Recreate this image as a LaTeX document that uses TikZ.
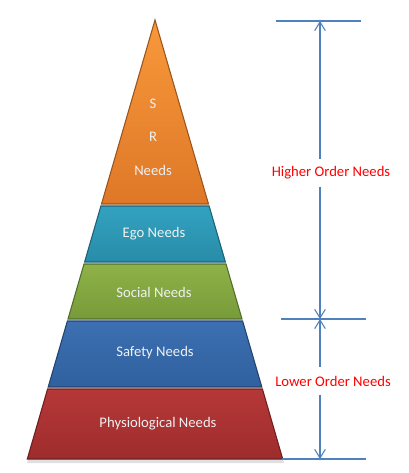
\documentclass[tikz,border=0pt]{standalone}
\usepackage{fontspec}
\setmainfont{Carlito}
\usetikzlibrary{arrows.meta}
\definecolor{dimblue}{RGB}{79,129,189}
\definecolor{lblred}{RGB}{255,0,0}
\definecolor{orT}{RGB}{248,152,58}\definecolor{orB}{RGB}{222,120,40}
\definecolor{tlT}{RGB}{50,162,192}\definecolor{tlB}{RGB}{40,140,168}
\definecolor{grT}{RGB}{142,178,72}\definecolor{grB}{RGB}{120,155,58}
\definecolor{blT}{RGB}{60,112,178}\definecolor{blB}{RGB}{48,96,158}
\definecolor{rdT}{RGB}{182,56,56}\definecolor{rdB}{RGB}{158,44,44}
\tikzset{
  layertext/.style={text=white!94!black, font=\fontsize{11}{13}\selectfont, inner sep=0pt},
  dimline/.style={draw=dimblue, line width=0.8pt},
  dimarrow/.style={dimline, -{Straight Barb[length=6.5pt,width=8pt]}},
  dimlabel/.style={text=lblred, font=\fontsize{11}{13}\selectfont, inner sep=0pt, minimum height=20.25pt},
}
\begin{document}
\begin{tikzpicture}[x=0.75pt,y=-0.75pt]
\useasboundingbox (0,0) rectangle (408,473);
\fill[white] (0,0) rectangle (408,473);
% shadow
\fill[black,opacity=0.12] (28,459) -- (283,459) -- (284,463) -- (27,463) -- cycle;
% layers (center x=155, half width = 0.291*(y-20))
\shade[top color=orT,bottom color=orB,draw=orB!70!black,line width=0.8pt]
  (155,20) -- (208.5,204) -- (101.5,204) -- cycle;
\shade[top color=tlT,bottom color=tlB,draw=tlB!70!black,line width=0.8pt]
  (100.9,206) -- (209.1,206) -- (225.4,262) -- (84.6,262) -- cycle;
\shade[top color=grT,bottom color=grB,draw=grB!70!black,line width=0.8pt]
  (84.0,264) -- (226.0,264) -- (242.0,319) -- (68.0,319) -- cycle;
\shade[top color=blT,bottom color=blB,draw=blB!70!black,line width=0.8pt]
  (67.4,321) -- (242.6,321) -- (261.8,387) -- (48.2,387) -- cycle;
\shade[top color=rdT,bottom color=rdB,draw=rdB!70!black,line width=0.8pt]
  (47.6,389) -- (262.4,389) -- (282.7,459) -- (27.3,459) -- cycle;
% layer texts
\node[layertext] (s) at (153,104) {S};
\node[layertext] (r) at (153,137) {R};
\node[layertext] (n) at (153,170) {Needs};
\node[layertext] (ego) at (154,234) {Ego Needs};
\node[layertext] (soc) at (154,292) {Social Needs};
\node[layertext] (saf) at (155,353) {Safety Needs};
\node[layertext] (phy) at (158,424) {Physiological Needs};
% dimension extension lines
\coordinate (t1) at (276,21); \coordinate (t2) at (361,21);
\coordinate (m1) at (281,319); \coordinate (m2) at (366,319);
\coordinate (b1) at (282,459); \coordinate (b2) at (366,459);
\coordinate (ht) at (320,21); \coordinate (hm) at (320,319); \coordinate (hb) at (320,459);
\draw[dimline] (t1) -- (t2);
\draw[dimline] (m1) -- (m2);
\draw[dimline] (b1) -- (b2);
% labels
\node[dimlabel] (hi) at (331,173) {Higher Order Needs};
\node[dimlabel] (lo) at (333,381) {Lower Order Needs};
% dimension arrows
\draw[dimarrow] (hi.north -| ht) -- (ht);
\draw[dimarrow] (hi.south -| ht) -- (hm);
\draw[dimarrow] (lo.north -| ht) -- (hm);
\draw[dimarrow] (lo.south -| ht) -- (hb);
\end{tikzpicture}
\end{document}
